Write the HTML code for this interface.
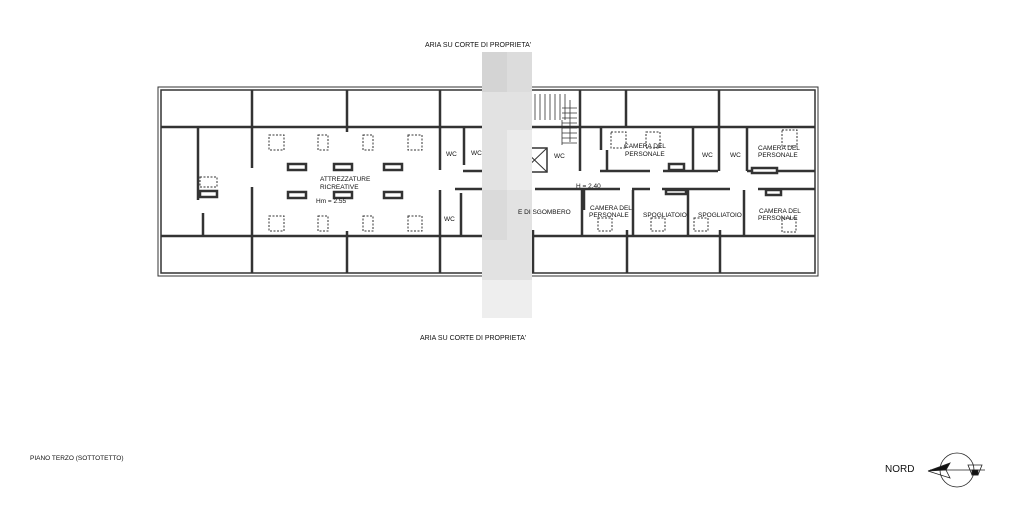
<!DOCTYPE html>
<html><head><style>
html,body{margin:0;padding:0;background:#fff;width:1024px;height:506px;overflow:hidden}
svg{display:block}
text{font-family:"Liberation Sans",sans-serif;fill:#111}
</style></head><body>
<svg width="1024" height="506" viewBox="0 0 1024 506" xmlns="http://www.w3.org/2000/svg">
<g stroke="#333" fill="none">
<rect x="158" y="87" width="660" height="189" stroke-width="1"/>
<rect x="161" y="90" width="654" height="183" stroke-width="1.5"/>
<line x1="161" y1="127" x2="815" y2="127" stroke-width="2.5"/>
<line x1="161" y1="236" x2="815" y2="236" stroke-width="2.5"/>
<g stroke-width="2.5">
<line x1="252" y1="90" x2="252" y2="127"/><line x1="347" y1="90" x2="347" y2="132"/><line x1="440" y1="90" x2="440" y2="127"/>
<line x1="580" y1="90" x2="580" y2="127"/><line x1="626" y1="90" x2="626" y2="127"/><line x1="719" y1="90" x2="719" y2="127"/>
<line x1="252" y1="236" x2="252" y2="273"/><line x1="347" y1="231" x2="347" y2="273"/><line x1="440" y1="236" x2="440" y2="273"/>
<line x1="533" y1="230" x2="533" y2="273"/><line x1="627" y1="230" x2="627" y2="273"/><line x1="720" y1="230" x2="720" y2="273"/>
<line x1="198" y1="128" x2="198" y2="200"/><line x1="203" y1="213" x2="203" y2="236"/>
<line x1="252" y1="128" x2="252" y2="168"/><line x1="252" y1="187" x2="252" y2="236"/>
<line x1="440" y1="128" x2="440" y2="170"/><line x1="440" y1="190" x2="440" y2="236"/>
<line x1="464" y1="128" x2="464" y2="165"/><line x1="463" y1="171" x2="482" y2="171"/>
<line x1="455" y1="189" x2="482" y2="189"/><line x1="461" y1="193" x2="461" y2="236"/>
<line x1="535" y1="189" x2="620" y2="189"/><line x1="632" y1="189" x2="650" y2="189"/><line x1="662" y1="189" x2="730" y2="189"/><line x1="758" y1="189" x2="815" y2="189"/>
<line x1="600" y1="171" x2="650" y2="171"/><line x1="663" y1="171" x2="718" y2="171"/><line x1="747" y1="171" x2="815" y2="171"/>
<line x1="580" y1="127" x2="580" y2="171"/><line x1="601" y1="127" x2="601" y2="150"/><line x1="607" y1="150" x2="607" y2="171"/>
<line x1="693" y1="127" x2="693" y2="171"/><line x1="747" y1="127" x2="747" y2="171"/><line x1="719" y1="127" x2="719" y2="171"/>
<line x1="582" y1="190" x2="582" y2="236"/><line x1="633" y1="190" x2="633" y2="236"/><line x1="688" y1="190" x2="688" y2="236"/><line x1="744" y1="190" x2="744" y2="236"/>
<line x1="584" y1="190" x2="584" y2="210"/>
</g>
<rect x="522" y="148" width="25" height="24" stroke-width="1.5"/>
<line x1="522" y1="148" x2="547" y2="172"/><line x1="547" y1="148" x2="522" y2="172"/>
<g stroke-width="0.8">
<path d="M525 94 V140 M530 94V120 M535 94V120 M540 94V120 M545 94V120 M550 94V120 M555 94V120 M560 94V120 M565 94V120"/>
<path d="M562 108 H577 M562 113H577 M562 118H577 M562 123H577 M562 128H577 M562 133H577 M562 138H577 M562 143H577"/>
<line x1="570" y1="100" x2="570" y2="142"/><line x1="562" y1="120" x2="562" y2="145"/>
</g>
<g stroke-width="2.5" fill="#fff">
<rect x="288" y="164" width="18" height="6"/><rect x="288" y="192" width="18" height="6"/>
<rect x="334" y="164" width="18" height="6"/><rect x="334" y="192" width="18" height="6"/>
<rect x="384" y="164" width="18" height="6"/><rect x="384" y="192" width="18" height="6"/>
<rect x="200" y="191" width="17" height="6"/>
<rect x="669" y="164" width="15" height="6"/><rect x="752" y="168" width="25" height="5"/><rect x="766" y="190" width="15" height="5"/>
<rect x="666" y="190" width="20" height="4"/>
</g>
<g stroke-width="1" stroke-dasharray="2,1.5">
<rect x="269" y="135" width="15" height="15"/><rect x="318" y="135" width="10" height="15"/><rect x="363" y="135" width="10" height="15"/><rect x="408" y="135" width="14" height="15"/>
<rect x="269" y="216" width="15" height="15"/><rect x="318" y="216" width="10" height="15"/><rect x="363" y="216" width="10" height="15"/><rect x="408" y="216" width="14" height="15"/>
<rect x="200" y="177" width="17" height="10"/>
<rect x="611" y="132" width="15" height="16"/><rect x="646" y="132" width="14" height="16"/>
<rect x="598" y="218" width="14" height="13"/><rect x="651" y="218" width="14" height="13"/><rect x="694" y="218" width="14" height="13"/>
<rect x="782" y="130" width="15" height="16"/><rect x="782" y="218" width="14" height="14"/>
</g>
</g>
<rect x="482" y="52" width="50" height="266" fill="#e2e2e2"/>
<rect x="482" y="52" width="25" height="40" fill="#d4d4d4"/>
<rect x="507" y="52" width="25" height="40" fill="#dcdcdc"/>
<rect x="507" y="130" width="25" height="60" fill="#ebebeb"/>
<rect x="482" y="190" width="25" height="50" fill="#dadada"/>
<rect x="482" y="280" width="50" height="38" fill="#eeeeee"/>
<g font-size="6.5">
<text x="425" y="47" font-size="7">ARIA SU CORTE DI PROPRIETA'</text>
<text x="420" y="340" font-size="7">ARIA SU CORTE DI PROPRIETA'</text>
<text x="320" y="181">ATTREZZATURE</text><text x="320" y="189">RICREATIVE</text>
<text x="316" y="203">Hm = 2.55</text>
<text x="446" y="156">WC</text><text x="471" y="155">WC</text><text x="444" y="221">WC</text><text x="554" y="158">WC</text>
<text x="518" y="214">E DI SGOMBERO</text>
<text x="624" y="148">CAMERA DEL</text><text x="625" y="156">PERSONALE</text>
<text x="702" y="157">WC</text><text x="730" y="157">WC</text>
<text x="758" y="150">CAMERA DEL</text><text x="758" y="157">PERSONALE</text>
<text x="576" y="188">H = 2.40</text>
<text x="590" y="210">CAMERA DEL</text><text x="589" y="217">PERSONALE</text>
<text x="643" y="217">SPOGLIATOIO</text><text x="698" y="217">SPOGLIATOIO</text>
<text x="759" y="213">CAMERA DEL</text><text x="758" y="220">PERSONALE</text>
<text x="30" y="460" font-size="6.5">PIANO TERZO (SOTTOTETTO)</text>
<text x="885" y="472" font-size="10">NORD</text>
</g>
<g stroke="#222" fill="none" stroke-width="0.8">
<circle cx="957" cy="470" r="17"/>
<line x1="930" y1="470" x2="985" y2="470"/>
<path d="M928 471 L950 463 L946 470 Z" fill="#111"/>
<path d="M928 471 L950 478 L946 470"/>
<path d="M968 465 H982 L978 475 H972 Z"/><rect x="972" y="470" width="6" height="5" fill="#111"/>
</g>
</svg>
</body></html>
